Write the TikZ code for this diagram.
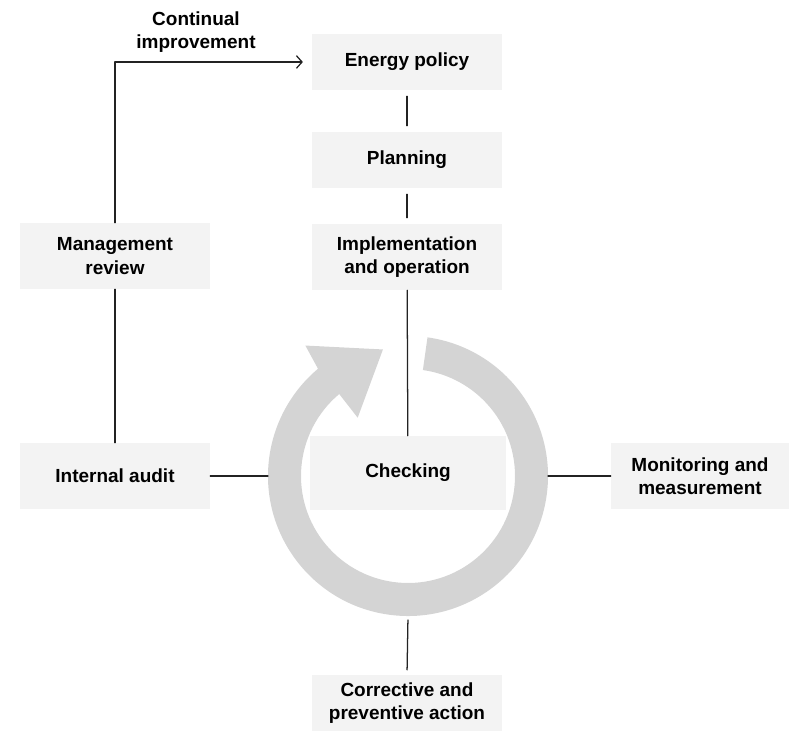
\documentclass[tikz,border=0pt]{standalone}
\usepackage{fontspec}
\setmainfont{Liberation Sans}
\usetikzlibrary{arrows.meta,positioning}
\definecolor{boxgray}{RGB}{243,243,243}
\definecolor{ringgray}{RGB}{212,212,212}
\definecolor{linegray}{RGB}{35,35,35}

\begin{document}
\begin{tikzpicture}[x=0.025cm, y=0.025cm, line cap=round, line join=round,
    font=\fontsize{13.5pt}{16.5pt}\selectfont\bfseries,
    stage/.style={fill=boxgray, align=center, minimum width=4.75cm, minimum height=1.4cm, inner sep=2pt},
    tallstage/.style={stage, minimum height=1.65cm},
    link/.style={linegray, line width=0.9pt},
    gaplink/.style={link, shorten >=0.15cm, shorten <=0.15cm}]
   \path[use as bounding box] (0,0) rectangle (789,730);

   % process boxes
   \node[stage] (pol) at (407,668) {Energy policy};
   \node[stage] (plan) at (407,570) {Planning};
   \node[tallstage] (impl) at (407,473) {Implementation\\and operation};
   \node[tallstage] (mgmt) at (115,474) {Management\\review};
   \node[tallstage] (audit) at (115,254) {Internal audit};
   \node[stage, minimum width=4.9cm, minimum height=1.85cm] (check) at (408,257) {Checking};
   \node[tallstage, minimum width=4.45cm] (monit) at (700,254) {Monitoring and\\measurement};
   \node[stage] (corr) at (407,27) {Corrective and\\preventive action};
   \node[align=center] (cont) at (196,698) {Continual\\improvement};

   % the loop arrow round Checking
   \begin{scope}[shift={(408,254)}]
      \fill[ringgray] (82:140) arc[start angle=82, end angle=-230, radius=140]
         -- (128.2:166) -- (101.2:129) -- (130.8:77) -- (130:107)
         arc[start angle=-230, end angle=82, radius=107] -- cycle;
      \coordinate (ringW) at (180:140);
      \coordinate (ringE) at (0:140);
      \coordinate (ringS) at (-90:140);
   \end{scope}

   \draw[gaplink] (pol) -- (plan);
   \draw[gaplink] (plan) -- (impl);
   \draw[link] (impl) -- (check);
   \draw[link] (mgmt) -- (audit);
   \draw[link, shorten >=0.22cm, -{Straight Barb[length=4pt,width=9pt]}] (mgmt.north) |- (pol.west);
   \draw[link] (audit.east) -- (ringW);
   \draw[link] (ringE) -- (monit.west);
   \draw[link, shorten <=0.1cm, shorten >=0.12cm] (ringS) -- (corr.north);

\end{tikzpicture}
\end{document}
